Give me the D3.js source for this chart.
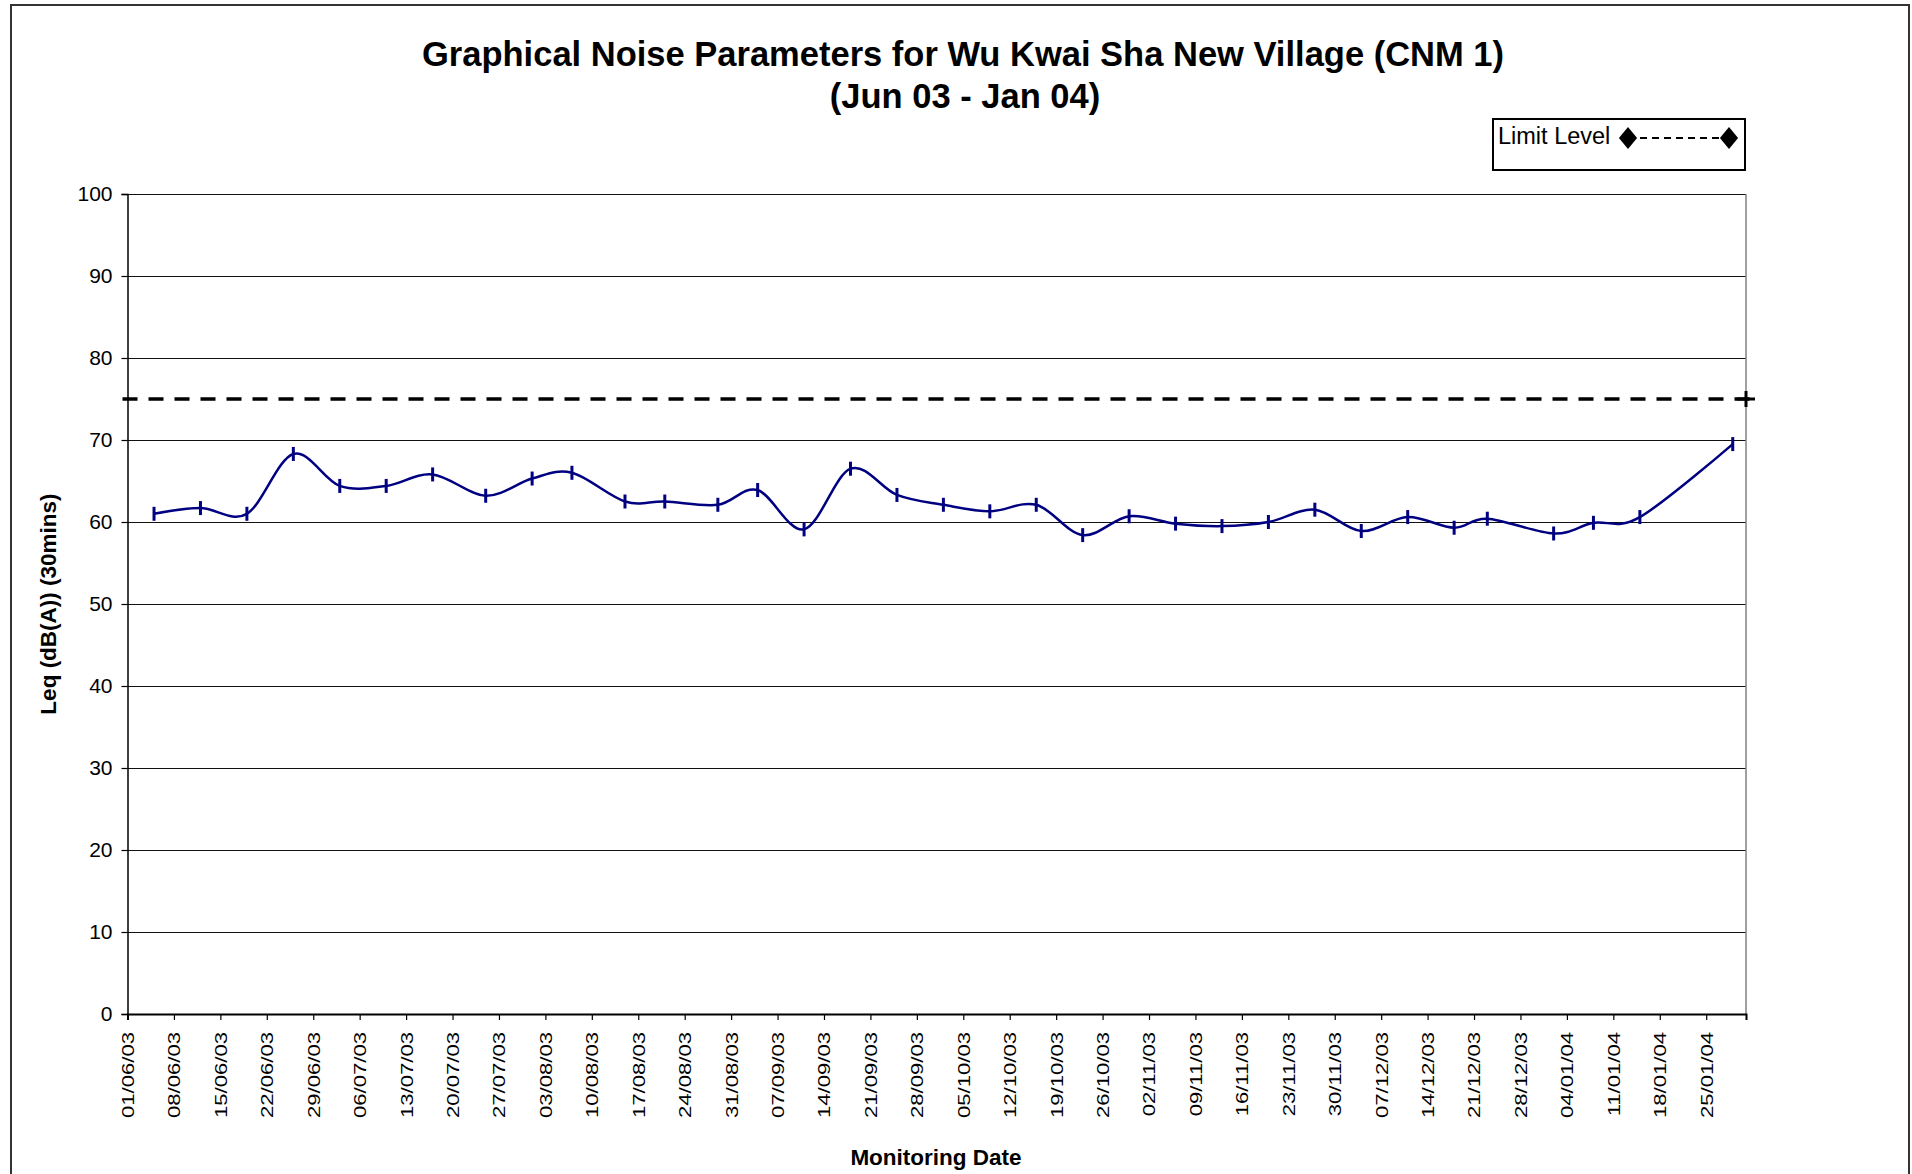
<!DOCTYPE html>
<html>
<head>
<meta charset="utf-8">
<script src="https://cdn.jsdelivr.net/npm/d3@7"></script>
<style>
  body { margin: 0; background: #fff; }
  svg { display: block; }
  text { font-family: "Liberation Sans", Arial, sans-serif; fill: #000; }
</style>
</head>
<body>
<script>
// monitoring dates and Leq values
const dates = ["05/06/03","12/06/03","19/06/03","26/06/03","03/07/03","10/07/03","17/07/03","25/07/03",
  "01/08/03","07/08/03","15/08/03","21/08/03","29/08/03","04/09/03","11/09/03","18/09/03","25/09/03",
  "02/10/03","09/10/03","16/10/03","23/10/03","30/10/03","06/11/03","13/11/03","20/11/03","27/11/03",
  "04/12/03","11/12/03","18/12/03","23/12/03","02/01/04","08/01/04","15/01/04","29/01/04"];
const leq = [61.0, 61.7, 61.0, 68.3, 64.4, 64.4, 65.8, 63.2,
  65.3, 66.0, 62.5, 62.5, 62.1, 63.9, 59.1, 66.5, 63.3,
  62.1, 61.3, 62.1, 58.4, 60.7, 59.8, 59.5, 60.0, 61.5,
  58.9, 60.6, 59.3, 60.4, 58.6, 59.9, 60.6, 69.5];
const limitLevel = 75;
const xDomain = ["01/06/03", "31/01/04"];
const yTicks = [0, 10, 20, 30, 40, 50, 60, 70, 80, 90, 100];

const W = 1912, H = 1174;
const plot = {left: 127.5, right: 1746, top: 194, bottom: 1014};

const parse = d3.timeParse("%d/%m/%y");
const fmt = d3.timeFormat("%d/%m/%y");
const data = dates.map((d, i) => ({date: parse(d), v: leq[i]}));

const svg = d3.select("body").append("svg")
  .attr("width", W).attr("height", H);

// outer chart border
svg.append("rect")
  .attr("x", 11).attr("y", 5).attr("width", 1898).attr("height", H + 10)
  .attr("fill", "none").attr("stroke", "#333").attr("stroke-width", 2);

const x = d3.scaleTime().domain(xDomain.map(parse)).range([plot.left, plot.right]);
const y = d3.scaleLinear().domain([0, 100]).range([plot.bottom, plot.top]);

// title
svg.append("text").attr("x", 963).attr("y", 66).attr("text-anchor", "middle")
  .style("font-size", "34.5px").style("font-weight", "bold")
  .text("Graphical Noise Parameters for Wu Kwai Sha New Village (CNM 1)");
svg.append("text").attr("x", 965).attr("y", 108).attr("text-anchor", "middle")
  .style("font-size", "34.5px").style("font-weight", "bold")
  .text("(Jun 03 - Jan 04)");

// gridlines
svg.append("g").selectAll("line").data(yTicks.filter(t => t > 0)).enter().append("line")
  .attr("x1", plot.left).attr("x2", plot.right)
  .attr("y1", d => Math.round(y(d)) + 0.5).attr("y2", d => Math.round(y(d)) + 0.5)
  .attr("stroke", "#111").attr("stroke-width", 1);

// right border of plot area
svg.append("line").attr("x1", plot.right).attr("x2", plot.right)
  .attr("y1", plot.top).attr("y2", plot.bottom)
  .attr("stroke", "#808080").attr("stroke-width", 1.5);

// y axis
const yAxis = svg.append("g").attr("transform", `translate(${plot.left},0)`)
  .call(d3.axisLeft(y).tickValues(yTicks).tickSize(6).tickPadding(9));
yAxis.select(".domain").attr("stroke", "#000").attr("stroke-width", 1.5);
yAxis.selectAll(".tick line").attr("stroke", "#000").attr("stroke-width", 1.2);
yAxis.selectAll(".tick text").style("font-size", "21px").style("font-family", "Liberation Sans, Arial, sans-serif");

// x axis: weekly ticks
const weekTicks = d3.timeWeek.range(parse("01/06/03"), parse("31/01/04"));
const xAxis = svg.append("g").attr("transform", `translate(0,${plot.bottom})`)
  .call(d3.axisBottom(x).tickValues(weekTicks).tickSize(6).tickFormat(fmt));
xAxis.select(".domain").attr("stroke", "#000").attr("stroke-width", 2);
xAxis.selectAll(".tick line").attr("stroke", "#000").attr("stroke-width", 1.2);
xAxis.selectAll(".tick text")
  .attr("transform", "translate(0,18) rotate(-90) scale(1.3,1)")
  .attr("x", 0).attr("y", 0).attr("dy", "0.35em")
  .attr("text-anchor", "end")
  .style("font-size", "17px").style("font-family", "Liberation Sans, Arial, sans-serif");

// axis titles
svg.append("text").attr("transform", "translate(56,604) rotate(-90)")
  .attr("text-anchor", "middle").style("font-size", "22.5px").style("font-weight", "bold")
  .text("Leq (dB(A)) (30mins)");
svg.append("text").attr("x", 936).attr("y", 1165).attr("text-anchor", "middle")
  .style("font-size", "22.5px").style("font-weight", "bold")
  .text("Monitoring Date");

// limit level line
const xl = x.range();
svg.append("line")
  .attr("x1", xl[0] - 5).attr("x2", xl[1] + 6)
  .attr("y1", y(limitLevel)).attr("y2", y(limitLevel))
  .attr("stroke", "#000").attr("stroke-width", 3.5).attr("stroke-dasharray", "15,11");
svg.append("path")
  .attr("d", `M${xl[1] - 9},${y(limitLevel)}h18M${xl[1]},${y(limitLevel) - 8}v16`)
  .attr("stroke", "#000").attr("stroke-width", 3).attr("fill", "none");

// Leq series
const line = d3.line().x(d => x(d.date)).y(d => y(d.v)).curve(d3.curveCatmullRom.alpha(0));
svg.append("path").datum(data).attr("d", line)
  .attr("fill", "none").attr("stroke", "#000080").attr("stroke-width", 2.5);
svg.append("g").selectAll("line").data(data).enter().append("line")
  .attr("x1", d => x(d.date)).attr("x2", d => x(d.date))
  .attr("y1", d => y(d.v) - 7).attr("y2", d => y(d.v) + 7)
  .attr("stroke", "#000080").attr("stroke-width", 3);

// legend
const lg = svg.append("g").attr("transform", "translate(1493,119)");
lg.append("rect").attr("width", 252).attr("height", 51)
  .attr("fill", "#fff").attr("stroke", "#000").attr("stroke-width", 2);
lg.append("text").attr("x", 5).attr("y", 25).style("font-size", "23.5px").text("Limit Level");
lg.append("line").attr("x1", 135).attr("x2", 236).attr("y1", 19).attr("y2", 19)
  .attr("stroke", "#000").attr("stroke-width", 2).attr("stroke-dasharray", "7,5");
lg.selectAll("path").data([135, 236]).enter().append("path")
  .attr("d", d3.symbol(d3.symbolDiamond2, 260))
  .attr("transform", d => `translate(${d},19) scale(0.9,1.1)`)
  .attr("fill", "#000");
</script>
</body>
</html>
